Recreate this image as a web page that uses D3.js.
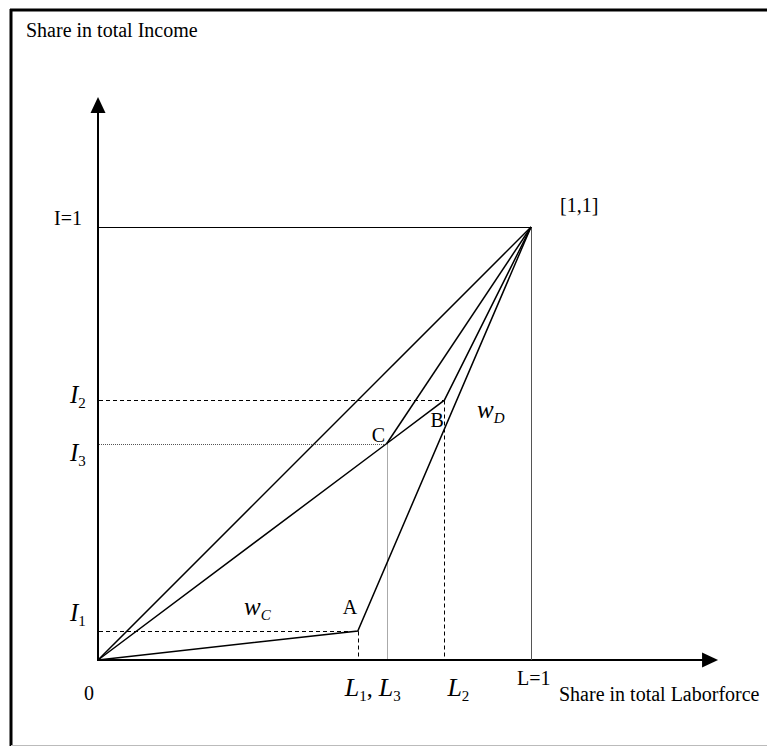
<!DOCTYPE html>
<html>
<head>
<meta charset="utf-8">
<script src="https://cdn.jsdelivr.net/npm/d3@7"></script>
<style>
  body { margin: 0; background: #fff; }
  text { font-family: "Liberation Serif", "Times New Roman", serif; fill: black; }
</style>
</head>
<body>
<div id="container"></div>
<script>
/* CONSTANTS AND GLOBALS */
const width = 767,
  height = 746,
  margin = { left: 98, bottom: 86 }

/* DATA */
// corner points of the income distribution curves (share of labor, share of income)
const pointNames = ["O", "A", "C", "B", "E"]
const pointLabor = [0, 0.6, 0.667, 0.8, 1]
const pointIncome = [0, 0.067, 0.5, 0.6, 1]

// polylines through the points above
const curves = [
  ["O", "E"],
  ["O", "A", "E"],
  ["O", "C", "B", "E"],
  ["C", "E"]
]

// guide lines from a point back to the axes
const guidePoints = ["A", "B", "C"]
const guideStyles = ["dashed", "dashed", "dotted"]

const yTickLabels = ["1", "2", "3"]
const xTickLabels = [["1", "3"], ["2"]]

const pts = {}
pointNames.forEach((n, i) => { pts[n] = { l: pointLabor[i], inc: pointIncome[i] } })

const svg = d3.select("#container")
  .append("svg")
  .attr("width", width)
  .attr("height", height)

/* SCALES */
const xScale = d3.scaleLinear()
  .domain([0, 1])
  .range([margin.left, 531])

const yScale = d3.scaleLinear()
  .domain([0, 1])
  .range([height - margin.bottom, 227])

/* FRAME */
svg.append("line")
  .attr("x1", 10).attr("x2", width).attr("y1", 10).attr("y2", 10)
  .attr("stroke", "black").attr("stroke-width", 3)
svg.append("line")
  .attr("x1", 11).attr("x2", 11).attr("y1", 9).attr("y2", height)
  .attr("stroke", "black").attr("stroke-width", 3)
svg.append("line")
  .attr("x1", 11).attr("x2", width).attr("y1", 745.5).attr("y2", 745.5)
  .attr("stroke", "#bbb").attr("stroke-width", 1)

/* AXES */
const x0 = xScale(0), y0 = yScale(0)
const xEnd = xScale(1.432), yEnd = yScale(1.3)

svg.append("line")
  .attr("x1", x0).attr("x2", xEnd - 12).attr("y1", y0).attr("y2", y0)
  .attr("stroke", "black").attr("stroke-width", 2)
svg.append("path")
  .attr("d", `M${xEnd},${y0} L${xEnd - 16},${y0 - 7.5} L${xEnd - 16},${y0 + 7.5} Z`)
  .attr("fill", "black")

svg.append("line")
  .attr("x1", x0).attr("x2", x0).attr("y1", y0 + 1).attr("y2", yEnd + 12)
  .attr("stroke", "black").attr("stroke-width", 2)
svg.append("path")
  .attr("d", `M${x0},${yEnd} L${x0 - 7.5},${yEnd + 16} L${x0 + 7.5},${yEnd + 16} Z`)
  .attr("fill", "black")

// I=1 and L=1 box lines
svg.append("line")
  .attr("x1", x0).attr("x2", xScale(1)).attr("y1", yScale(1) + 0.5).attr("y2", yScale(1) + 0.5)
  .attr("stroke", "black").attr("stroke-width", 1)
svg.append("line")
  .attr("x1", xScale(1) + 0.5).attr("x2", xScale(1) + 0.5).attr("y1", yScale(1)).attr("y2", y0)
  .attr("stroke", "#555").attr("stroke-width", 1)

/* GUIDES */
guidePoints.forEach((n, i) => {
  const p = pts[n]
  const dotted = guideStyles[i] === "dotted"
  const px = Math.round(xScale(p.l)) + 0.5
  const py = Math.round(yScale(p.inc)) + 0.5
  const g = svg.append("g")
    .attr("stroke", dotted ? "#555" : "black")
    .attr("stroke-width", 1)
    .attr("stroke-dasharray", dotted ? "1,1" : "4,3")
  g.append("line")
    .attr("x1", x0 + 1).attr("x2", px)
    .attr("y1", py).attr("y2", py)
  g.append("line")
    .attr("x1", px).attr("x2", px)
    .attr("y1", py).attr("y2", y0 - 1)
})

/* CURVES */
const line = d3.line()
  .x(n => xScale(pts[n].l))
  .y(n => yScale(pts[n].inc))

svg.selectAll("path.curve")
  .data(curves)
  .join("path")
  .attr("class", "curve")
  .attr("d", line)
  .attr("fill", "none")
  .attr("stroke", "black")
  .attr("stroke-width", 1.5)
  .attr("stroke-linejoin", "miter")

/* TEXT */
const plain = (x, y, t, anchor) => svg.append("text")
  .attr("x", x).attr("y", y)
  .attr("font-size", "20px")
  .attr("text-anchor", anchor || "start")
  .text(t)

plain(26, 37, "Share in total Income")
plain(82, 225, "I=1", "end")
plain(560, 212, "[1,1]")
plain(84, 700, "0")
plain(517, 685, "L=1")
plain(559, 701, "Share in total Laborforce")

// point labels
plain(xScale(pts.A.l) - 15, yScale(pts.A.inc) - 17, "A")
plain(xScale(pts.C.l) - 15, yScale(pts.C.inc) - 2, "C")
plain(xScale(pts.B.l) - 14, yScale(pts.B.inc) + 27, "B")

// italic symbol with subscript
const symbol = (x, y, main, subs, size) => {
  const t = svg.append("text").attr("x", x).attr("y", y)
  subs.forEach((s, i) => {
    if (i > 0) {
      t.append("tspan").attr("font-size", "24px").attr("dy", -5).text(", ")
    }
    t.append("tspan")
      .attr("font-size", size + "px")
      .attr("font-style", "italic")
      .attr("dy", i > 0 ? 0 : null)
      .text(main)
    t.append("tspan")
      .attr("font-size", "15px")
      .attr("font-style", s.italic ? "italic" : null)
      .attr("dy", 5)
      .text(s.t)
  })
  return t
}

// income shares on the y axis
const yOffsets = [-10, 3, 17]
yTickLabels.forEach((s, i) => {
  const p = pts[guidePoints[i === 0 ? 0 : i === 1 ? 1 : 2]]
  symbol(70, yScale(p.inc) + yOffsets[i], "I", [{ t: s }], 25)
})

// labor shares on the x axis
symbol(xScale(pts.A.l) - 13, 696, "L", xTickLabels[0].map(t => ({ t })), 26)
symbol(xScale(pts.B.l) + 3, 696, "L", xTickLabels[1].map(t => ({ t })), 26)

// wage areas
symbol(244, 615, "w", [{ t: "C", italic: true }], 25)
symbol(477, 418, "w", [{ t: "D", italic: true }], 25)
</script>
</body>
</html>
